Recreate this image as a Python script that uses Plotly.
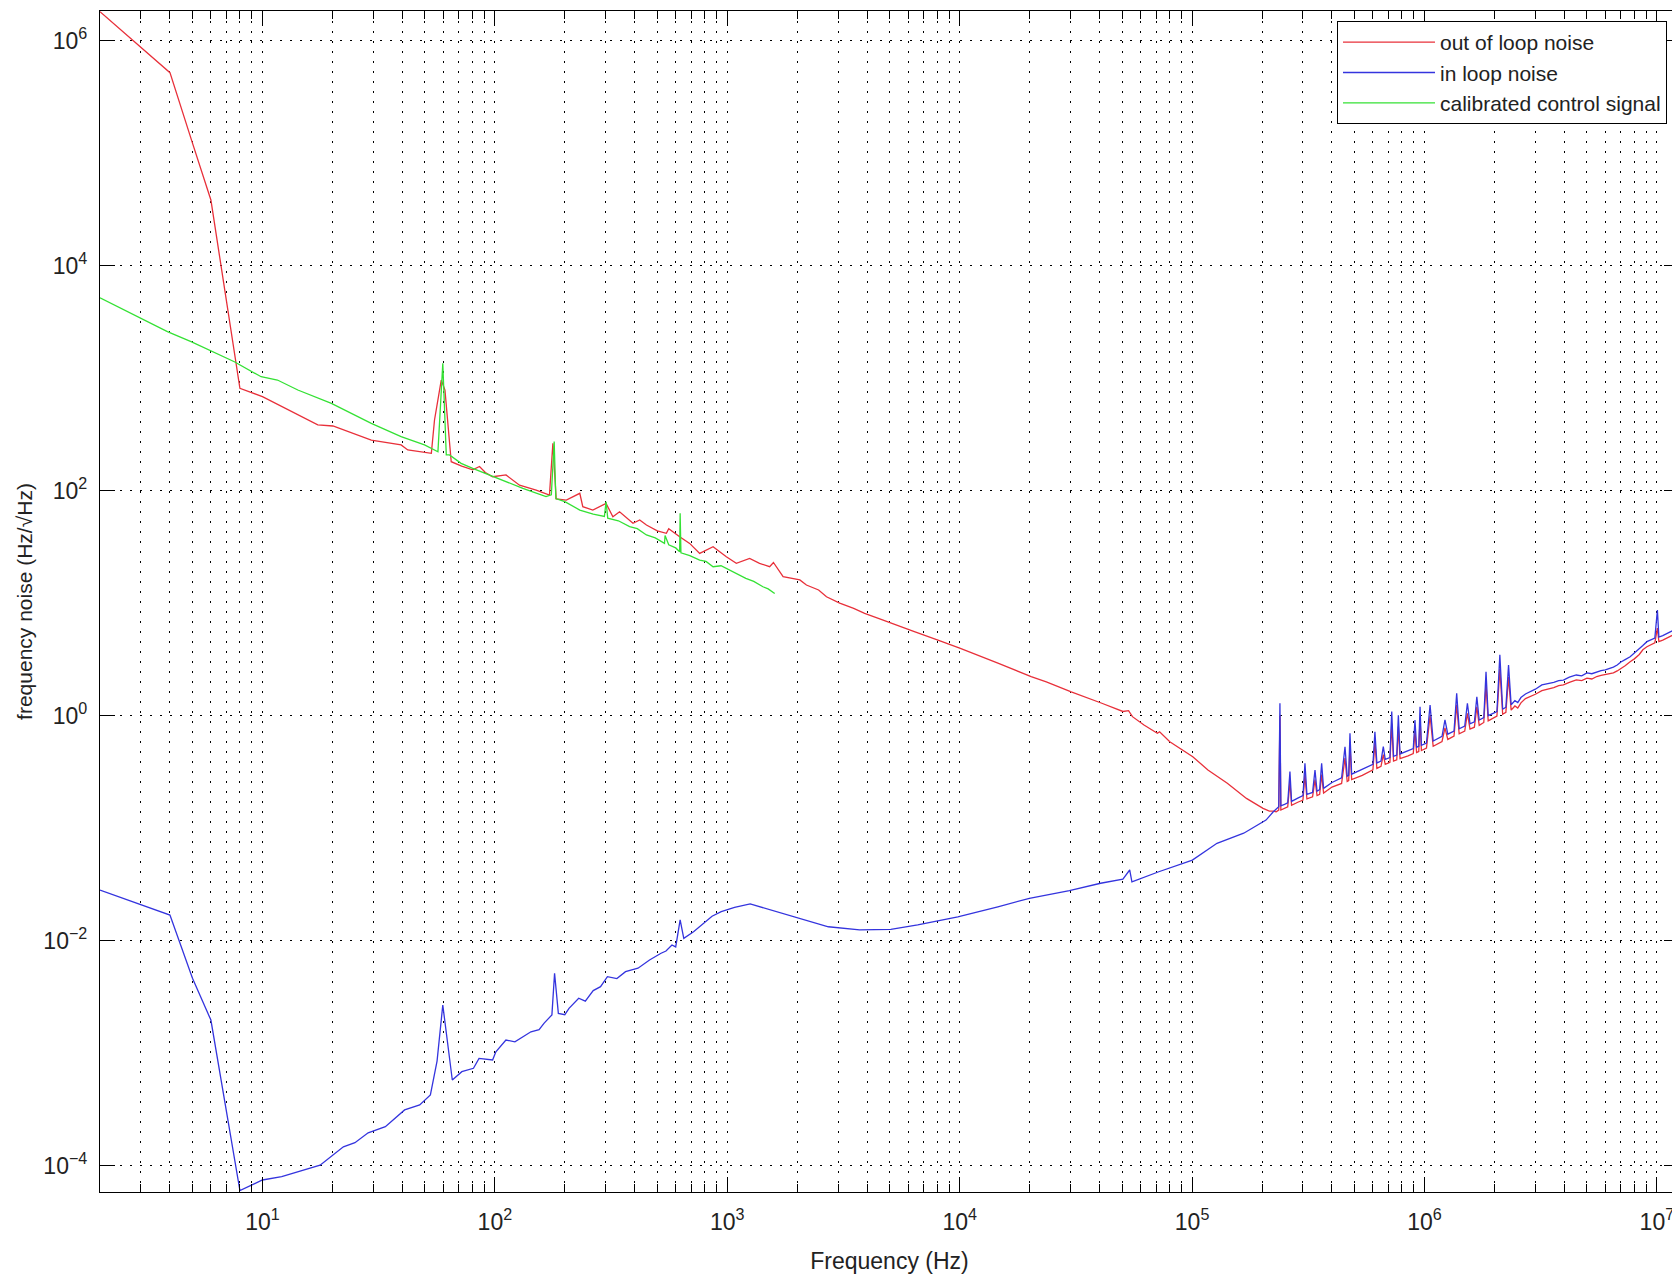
import math
import plotly.graph_objects as go

# ---------------- data ----------------
red_f = [2, 4, 5, 6, 8, 10, 17.3, 20.1, 29.4, 39.5, 42.2, 53.3, 55, 58.8, 61, 64.9, 72, 80.3, 85.9, 91,
         97.8, 111.7, 127.7, 150.6, 171.8, 177.7, 183.6, 203, 232, 239, 264, 301, 322, 344, 393, 420,
         449, 500, 547, 560, 624, 689, 761, 869, 991, 1094, 1248, 1377, 1522, 1580, 1739, 2052, 2191,
         2472, 2673, 3047, 3500, 3900, 4500, 5085, 6383, 8011, 10070, 14700, 20300, 23600, 30200, 40900,
         50400, 53300, 55400, 62100, 70900, 72500, 80200, 100700, 117000, 141800, 171400, 202000, 215000,
         223600, 230000, 236000, 238800, 241000, 250000, 258000, 263700, 268000, 285000, 300000, 306000,
         312000, 330000, 338000, 345000, 354000, 361000, 368000, 400000, 440000, 455000, 465000, 472000,
         478000, 486000, 540000, 600000, 612000, 624000, 650000, 665000, 678000, 710000, 723000, 736000,
         760000, 772000, 785000, 850000, 895000, 910000, 925000, 945000, 957000, 970000, 1.02e6, 1.057e6,
         1.09e6, 1.19e6, 1.225e6, 1.26e6, 1.34e6, 1.376e6, 1.41e6, 1.49e6, 1.53e6, 1.57e6, 1.64e6, 1.68e6,
         1.72e6, 1.8e6, 1.84e6, 1.88e6, 2.05e6, 2.11e6, 2.17e6, 2.24e6, 2.3e6, 2.36e6, 2.45e6, 2.52e6,
         2.6e6, 2.72e6, 2.84e6, 3.0e6, 3.2e6, 3.4e6, 3.6e6, 3.78e6, 3.96e6, 4.2e6, 4.5e6, 4.75e6, 5.0e6,
         5.25e6, 5.51e6, 5.75e6, 6.0e6, 6.25e6, 6.5e6, 6.75e6, 7.0e6, 7.3e6, 7.67e6, 8.0e6, 8.4e6, 8.7e6,
         9.06e6, 9.4e6, 9.8e6, 1.005e7, 1.02e7, 1.06e7, 1.1e7, 1.13e7, 1.17e7, 1.21e7, 1.245e7]
red_v = [1.81e6, 5.2e5, 1.23e5, 3.84e4, 813, 685, 384, 376, 282, 255, 230, 215, 425, 963, 785, 181, 165, 153,
         164, 145, 133, 138, 112, 101, 91.5, 264, 84.4, 82.6, 94.8, 72, 67.3, 77, 58.7, 65, 51.3, 55,
         49.5, 44, 41.8, 46, 39, 34, 27.7, 31.8, 25.9, 22.6, 25, 22.6, 21.1, 23, 17.2, 16.1, 14.5,
         13.1, 11.4, 10.0, 9.0, 8.13, 7.3, 6.62, 5.58, 4.71, 3.97, 2.92, 2.22, 2.0, 1.63, 1.29,
         1.09, 1.11, 0.98, 0.826, 0.697, 0.72, 0.587, 0.432, 0.329, 0.251, 0.184, 0.150, 0.142,
         0.142, 0.14, 0.145, 1.0, 0.145, 0.15, 0.155, 0.26, 0.16, 0.17, 0.178, 0.3,
         0.182, 0.19, 0.27, 0.195, 0.2, 0.3, 0.205, 0.232, 0.25, 0.42, 0.26, 0.265,
         0.55, 0.27, 0.295, 0.33, 0.58, 0.34, 0.355, 0.45, 0.37, 0.385, 0.85, 0.395,
         0.405, 0.8, 0.415, 0.44, 0.46, 0.72, 0.47, 0.48, 0.95, 0.49, 0.515, 1.0,
         0.535, 0.59, 0.78, 0.615, 0.66, 1.25, 0.69, 0.73, 1.05, 0.76, 0.79, 1.2,
         0.82, 0.87, 1.9, 0.9, 0.99, 2.6, 1.03, 1.07, 2.2, 1.12, 1.22, 1.17,
         1.3, 1.42, 1.47, 1.55, 1.67, 1.72, 1.78, 1.85, 1.88, 1.98, 2.08, 2.05, 2.16,
         2.12, 2.23, 2.28, 2.32, 2.36, 2.4, 2.5, 2.62, 2.78, 3.02, 3.2, 3.5, 3.85,
         4.1, 4.25, 4.45, 6.0, 4.55, 4.7, 4.9, 5.0, 5.2, 5.35, 5.5]

blue_f = [2, 4, 5, 6, 8, 10, 12.1, 17.7, 22.3, 25, 28.5, 33.8, 40.9, 44, 47.5, 52.8, 56.4, 59.7, 62.5,
          65.6, 72.1, 80.9, 85.5, 97.8, 101, 111.6, 122, 143, 155, 163, 176, 180.7, 187.6, 200, 208.5,
          229.5, 245, 265, 285, 305, 335, 365, 413, 463, 519, 545, 578, 600, 627, 650, 716, 788, 860,
          942, 1075, 1255, 1532, 1996, 2723, 3710, 5056, 6600, 9820, 14600, 19950, 29670, 40400, 50400,
          53900, 55100, 71900, 100300, 128000, 166800, 208000, 223600, 232000, 236000, 238800, 241000,
          250000, 258000, 263700, 268000, 285000, 300000, 306000, 312000, 330000, 338000, 345000, 354000,
          361000, 368000, 400000, 440000, 455000, 465000, 472000, 478000, 486000, 540000, 600000, 612000,
          624000, 650000, 665000, 678000, 710000, 723000, 736000, 760000, 772000, 785000, 850000, 895000,
          910000, 925000, 945000, 957000, 970000, 1.02e6, 1.057e6, 1.09e6, 1.19e6, 1.225e6, 1.26e6,
          1.34e6, 1.376e6, 1.41e6, 1.49e6, 1.53e6, 1.57e6, 1.64e6, 1.68e6, 1.72e6, 1.8e6, 1.84e6, 1.88e6,
          2.05e6, 2.11e6, 2.17e6, 2.24e6, 2.3e6, 2.36e6, 2.45e6, 2.52e6, 2.6e6, 2.72e6, 2.84e6, 3.0e6,
          3.2e6, 3.4e6, 3.6e6, 3.78e6, 3.96e6, 4.2e6, 4.5e6, 4.75e6, 5.0e6, 5.25e6, 5.51e6, 5.75e6,
          6.0e6, 6.25e6, 6.5e6, 6.75e6, 7.0e6, 7.3e6, 7.67e6, 8.0e6, 8.4e6, 8.7e6, 9.06e6, 9.4e6, 9.8e6,
          1.005e7, 1.02e7, 1.06e7, 1.1e7, 1.13e7, 1.17e7, 1.21e7, 1.245e7]
blue_v = [0.0282, 0.0169, 0.00463, 0.00197, 6.0e-5, 7.46e-5, 7.98e-5, 1.01e-4, 1.47e-4, 1.6e-4, 1.96e-4,
          2.22e-4, 3.13e-4, 3.3e-4, 3.47e-4, 4.25e-4, 8.5e-4, 2.68e-3, 1.27e-3, 5.78e-4, 6.85e-4, 7.34e-4,
          9.0e-4, 8.7e-4, 1.03e-3, 1.31e-3, 1.26e-3, 1.55e-3, 1.62e-3, 1.85e-3, 2.19e-3, 5.13e-3, 2.26e-3,
          2.2e-3, 2.5e-3, 3.08e-3, 2.9e-3, 3.6e-3, 3.9e-3, 4.79e-3, 4.6e-3, 5.3e-3, 5.69e-3, 6.73e-3,
          7.73e-3, 8.1e-3, 9.16e-3, 8.8e-3, 0.0153, 0.0105, 0.012, 0.0143, 0.0165, 0.0181, 0.0198, 0.0212,
          0.01875, 0.01615, 0.0133, 0.01245, 0.0126, 0.0138, 0.0163, 0.02, 0.0238, 0.0278, 0.0324, 0.0352,
          0.0425, 0.0334, 0.041, 0.0521, 0.0734, 0.0902, 0.118, 0.140, 0.150, 0.155, 1.29, 0.158,
          0.163, 0.168, 0.318, 0.173, 0.185, 0.195, 0.377, 0.2, 0.208, 0.329, 0.213, 0.22,
          0.377, 0.226, 0.255, 0.28, 0.53, 0.29, 0.295, 0.698, 0.302, 0.335, 0.37, 0.721,
          0.38, 0.395, 0.53, 0.41, 0.425, 1.09, 0.435, 0.447, 1.01, 0.457, 0.49, 0.51,
          0.916, 0.525, 0.535, 1.2, 0.545, 0.57, 1.24, 0.595, 0.655, 0.92, 0.685,
          0.73, 1.58, 0.765, 0.81, 1.29, 0.845, 0.88, 1.47, 0.915, 0.96, 2.46, 1.0,
          1.09, 3.47, 1.14, 1.19, 2.82, 1.25, 1.36, 1.31, 1.45, 1.56, 1.63, 1.72,
          1.88, 1.92, 1.98, 2.05, 2.07, 2.2, 2.3, 2.26, 2.4, 2.36, 2.46, 2.52,
          2.55, 2.62, 2.7, 2.82, 3.0, 3.15, 3.34, 3.6, 3.9, 4.2, 4.55, 4.75, 4.9,
          8.7, 5.0, 5.15, 5.4, 5.5, 5.7, 5.85, 5.98]

green_f = [2, 2.9, 3.9, 4.93, 5.92, 7.57, 9.87, 11.6, 14.2, 19.8, 29.4, 39.5, 49.8, 53.2, 56.9, 59.7,
           61.8, 63.8, 71.6, 80.3, 100, 132, 166, 175, 180, 183, 200, 232, 265, 296, 301, 306, 340, 380,
           410, 449, 490, 537, 540, 560, 600, 624, 627, 632, 690, 761, 810, 869, 940, 1023, 1100, 1202,
           1300, 1424, 1500, 1600]
green_v = [5180, 3520, 2590, 2110, 1780, 1400, 1030, 963, 785, 598, 397, 302, 255, 238, 222, 1355,
           208, 208, 175, 158, 132, 105, 88.5, 92, 273, 85, 80, 67.3, 62, 59, 79.8, 57, 54, 47.9,
           46, 40.4, 38, 34, 40, 33, 31, 28.7, 63, 28, 26.5, 24.2, 23.5, 21.1, 21.5, 19.7, 18.5, 16.6,
           15.6, 14.0, 13.4, 12.2]

series_names = ["out of loop noise", "in loop noise", "calibrated control signal"]
series_colors = ["rgb(232,48,58)", "rgb(52,52,222)", "rgb(52,225,52)"]

x_tickvals = [1e1, 1e2, 1e3, 1e4, 1e5, 1e6, 1e7]
x_ticktext = ["10<sup>1</sup>", "10<sup>2</sup>", "10<sup>3</sup>", "10<sup>4</sup>",
              "10<sup>5</sup>", "10<sup>6</sup>", "10<sup>7</sup>"]
y_tickvals = [1e-4, 1e-2, 1e0, 1e2, 1e4, 1e6]
y_ticktext = ["10<sup>−4</sup>", "10<sup>−2</sup>", "10<sup>0</sup>", "10<sup>2</sup>",
              "10<sup>4</sup>", "10<sup>6</sup>"]

x_range = [math.log10(2), math.log10(1.245e7)]
y_range = [-4.234, 6.264]

# ---------------- figure ----------------
fig = go.Figure()
for f, v, name, col in zip([red_f, blue_f, green_f], [red_v, blue_v, green_v], series_names, series_colors):
    fig.add_trace(go.Scatter(x=f, y=v, mode="lines", name=name,
                             line=dict(color=col, width=1.3)))

font_family = "Liberation Sans, Arial, Helvetica, sans-serif"
grid_dash = "2px,8px"

# the page body adds an 8px margin, so the figure is sized 8px smaller
fig.update_layout(
    width=1672, height=1268,
    margin=dict(l=92, r=1, t=3, b=84),
    paper_bgcolor="white", plot_bgcolor="white",
    font=dict(family=font_family, size=23, color="#222"),
    legend=dict(x=0.9924, y=0.9915, xanchor="right", yanchor="top",
                bgcolor="white", bordercolor="black", borderwidth=1,
                font=dict(size=21, color="#222"), itemwidth=92,
                tracegroupgap=0),
)

fig.update_xaxes(
    type="log", range=x_range, tickmode="array", tickvals=x_tickvals, ticktext=x_ticktext,
    ticks="inside", ticklen=15, tickwidth=1, tickcolor="black",
    showline=True, linecolor="black", linewidth=1.2, mirror="ticks",
    showgrid=True, gridcolor="black", gridwidth=1.4, griddash=grid_dash,
    zeroline=False, ticklabelstandoff=9,
    minor=dict(dtick="D1", ticks="inside", ticklen=8, tickcolor="black", tickwidth=1,
               showgrid=True, gridcolor="black", gridwidth=1.4, griddash=grid_dash),
    title=dict(text="Frequency (Hz)", font=dict(size=23), standoff=19),
)
fig.update_yaxes(
    type="log", range=y_range, tickmode="array", tickvals=y_tickvals, ticktext=y_ticktext,
    ticks="inside", ticklen=15, tickwidth=1, tickcolor="black",
    showline=True, linecolor="black", linewidth=1.2, mirror="ticks",
    showgrid=True, gridcolor="black", gridwidth=1.4, griddash=grid_dash,
    zeroline=False, ticklabelstandoff=7,
    title=dict(text="frequency noise (Hz/√Hz)", font=dict(size=21), standoff=4),
)

fig.write_html("out.html")
